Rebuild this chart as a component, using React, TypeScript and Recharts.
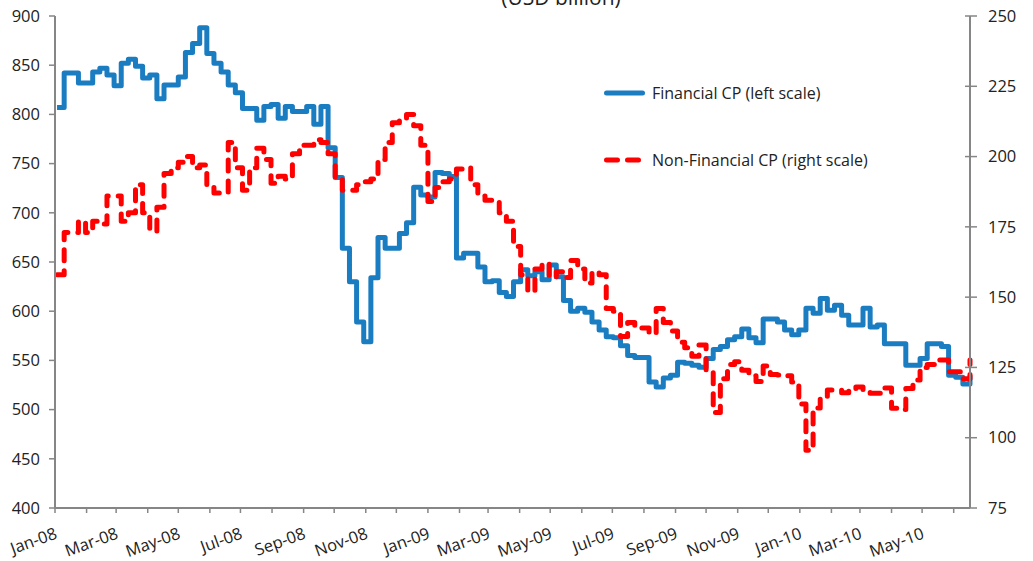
import { LineChart, Line, XAxis, YAxis, Legend } from 'recharts';

// weekly outstanding amounts, USD billion (first observation 3 Jan 2008)
const financialCP = [
  807, 842, 842, 832, 832, 843, 847, 840, 829, 852, 856, 849, 837, 840, 816, 830, 830,
  838, 863, 872, 888, 862, 852, 843, 830, 822, 806, 806, 794, 808, 810, 796,
  808, 803, 803, 808, 790, 808, 766, 736, 664, 630, 589, 569, 634, 675, 664, 664,
  679, 690, 726, 718, 716, 741, 740, 737, 654, 659, 659, 645, 630, 631, 619, 615, 630,
  642, 636, 640, 632, 647, 635, 611, 600, 603, 599, 589, 581, 574, 573, 565, 555,
  553, 553, 528, 523, 532, 535, 548, 547, 545, 543, 552, 561, 564, 571, 574, 582,
  573, 568, 592, 592, 589, 581, 576, 581, 603, 598, 613, 601, 606, 596, 586,
  586, 603, 584, 586, 567, 567, 567, 545, 545, 552, 567, 567, 564, 535, 533, 526, 535,
];

const nonFinancialCP = [
  158, 173, 173, 177, 173, 177, 176, 186, 186, 177, 180, 190, 180, 173.5, 182, 194, 196,
  198, 200, 196, 197, 189, 187, 187, 205, 196, 188, 196, 203, 199, 190.5, 193,
  192, 201, 204, 204, 206, 205, 201, 192, 188, 188, 190, 191, 192, 199, 205, 212, 213.6,
  215, 211, 204, 184, 189, 191, 192, 195.6, 196, 190, 186, 184.5, 184, 180, 177, 168,
  158, 152, 160, 162, 157, 159, 157, 163, 160, 155, 159, 158, 146, 145, 136, 141,
  139, 139, 137, 146, 141, 138, 134, 132, 129, 133, 124, 109, 121, 126, 127, 124,
  122, 120, 125.5, 122.5, 122.3, 122, 119.8, 112, 95.5, 110.6, 114, 117, 117, 116, 117,
  118, 117, 115.8, 115.8, 117.7, 110.5, 110, 117.5, 120.5, 125, 126, 127.6, 127.6, 123.5, 123.5, 121, 127.6,
];

const tickLabels = [
  'Jan-08', 'Mar-08', 'May-08', 'Jul-08', 'Sep-08', 'Nov-08', 'Jan-09', 'Mar-09',
  'May-09', 'Jul-09', 'Sep-09', 'Nov-09', 'Jan-10', 'Mar-10', 'May-10',
];

const leftTicks = [400, 450, 500, 550, 600, 650, 700, 750, 800, 850, 900];
const rightTicks = [75, 100, 125, 150, 175, 200, 225, 250];

const DAY = 86400000;
const origin = Date.UTC(2008, 0, 1);

// x is days since 1 Jan 2008
const data = financialCP.map((v, i) => ({
  day: 2 + 7 * i,
  fin: v,
  nonfin: nonFinancialCP[i],
}));

const monthTicks: number[] = [];
for (let m = 0; m < 30; m++) monthTicks.push((Date.UTC(2008, m, 1) - origin) / DAY);

const FONT = '"Open Sans", sans-serif';
const BLUE = '#1a7dc1';
const RED = '#ff0000';
const AXIS = '#868686';
const TEXT = '#222';

function MonthTick(props: any) {
  const { x, y, payload } = props;
  const m = monthTicks.indexOf(payload.value);
  if (m < 0 || m % 2 === 1) return <g />;
  const bx = x + 3;
  const by = y + 25;
  return (
    <text
      x={bx}
      y={by}
      transform={`rotate(-20 ${bx} ${by})`}
      textAnchor="end"
      fontFamily={FONT}
      fontSize={16.5}
      fill={TEXT}
    >
      {tickLabels[m / 2]}
    </text>
  );
}

// right axis: ticks cross the axis line, labels left-aligned
function RightTick(props: any) {
  const { y, payload } = props;
  return (
    <g>
      <line x1={965} x2={970} y1={y} y2={y} stroke={AXIS} strokeWidth={1.5} />
      <text x={988} y={y} dy="0.35em" textAnchor="start" fontFamily={FONT} fontSize={16.5} fill={TEXT}>
        {payload.value}
      </text>
    </g>
  );
}

const renderLegend = () => (
  <svg width={320} height={100} style={{ overflow: 'visible' }}>
    <line x1={8.5} y1={15} x2={44.5} y2={15} stroke={BLUE} strokeWidth={5} strokeLinecap="round" />
    <text x={54} y={15} dy="0.35em" fontFamily={FONT} fontSize={16} fill={TEXT}>
      Financial CP (left scale)
    </text>
    <line
      x1={8.5}
      y1={82}
      x2={40.5}
      y2={82}
      stroke={RED}
      strokeWidth={5}
      strokeLinecap="round"
      strokeDasharray="11 10"
    />
    <text x={54} y={82} dy="0.35em" fontFamily={FONT} fontSize={16} fill={TEXT}>
      Non-Financial CP (right scale)
    </text>
  </svg>
);

export default function App() {
  return (
    <div style={{ position: 'absolute', left: 0, top: 0, width: 1033, height: 561, background: '#fff' }}>
      <svg width={1033} height={20} style={{ position: 'absolute', left: 0, top: 0 }}>
        <text x={561} y={5} textAnchor="middle" fontFamily={FONT} fontSize={21} fill={TEXT}>
          (USD billion)
        </text>
      </svg>
      <LineChart width={1033} height={561} data={data} margin={{ top: 16, right: 13, bottom: 0, left: 0 }}>
        <XAxis
          dataKey="day"
          type="number"
          domain={[0, 898]}
          ticks={monthTicks}
          interval={0}
          height={53}
          tickSize={5}
          tickMargin={0}
          axisLine={{ stroke: AXIS, strokeWidth: 2 }}
          tickLine={{ stroke: AXIS, strokeWidth: 1.5 }}
          tick={<MonthTick />}
        />
        <YAxis
          yAxisId="left"
          domain={[400, 900]}
          ticks={leftTicks}
          interval={0}
          width={55}
          tickSize={6}
          tickMargin={9}
          axisLine={{ stroke: AXIS, strokeWidth: 2 }}
          tickLine={{ stroke: AXIS, strokeWidth: 1.5 }}
          tick={{ fill: TEXT, fontSize: 16.5, fontFamily: FONT }}
        />
        <YAxis
          yAxisId="right"
          orientation="right"
          domain={[75, 250]}
          ticks={rightTicks}
          interval={0}
          width={50}
          tickSize={7}
          tickMargin={11}
          axisLine={{ stroke: AXIS, strokeWidth: 2 }}
          tickLine={{ stroke: AXIS, strokeWidth: 1.5 }}
          tick={<RightTick />}
        />
        <Legend
          layout="vertical"
          align="center"
          verticalAlign="middle"
          content={renderLegend}
          wrapperStyle={{ left: 598, top: 78, width: 320, height: 100 }}
        />
        <Line
          yAxisId="left"
          type="stepAfter"
          dataKey="fin"
          stroke={BLUE}
          strokeWidth={5}
          strokeLinejoin="round"
          dot={false}
          isAnimationActive={false}
        />
        <Line
          yAxisId="right"
          type="stepAfter"
          dataKey="nonfin"
          stroke={RED}
          strokeWidth={5}
          strokeLinecap="round"
          strokeLinejoin="round"
          strokeDasharray="11 10"
          dot={false}
          isAnimationActive={false}
        />
      </LineChart>
    </div>
  );
}
